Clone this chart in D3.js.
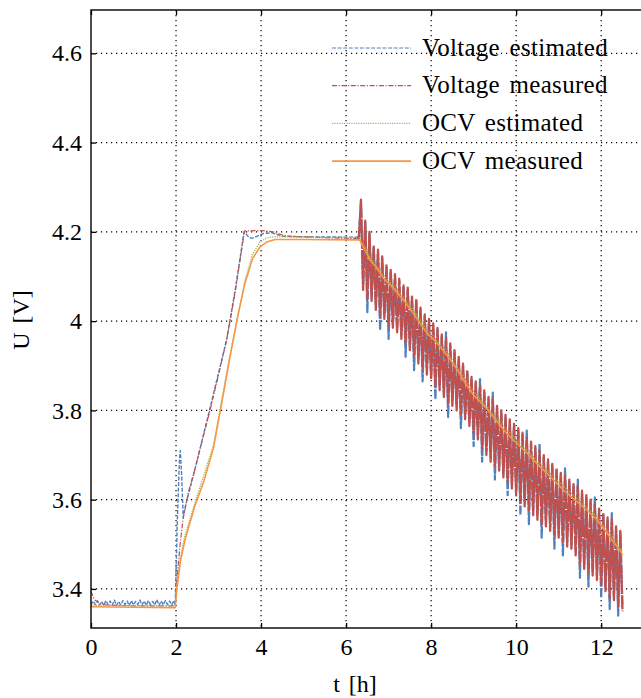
<!DOCTYPE html>
<html>
<head>
<meta charset="utf-8">
<script src="https://cdn.jsdelivr.net/npm/d3@7"></script>
<style>
	body { margin: 0; background: #fff; }
	svg { display: block; }
	text { font-family: "Liberation Serif", "DejaVu Serif", serif; fill: #000; }
</style>
</head>
<body>
<div class="chart"></div>
<script>

// ---- data ----------------------------------------------------------------

var xTicks = [0, 2, 4, 6, 8, 10, 12];
var yTicks = [3.4, 3.6, 3.8, 4.0, 4.2, 4.4, 4.6];
var yTickLabels = ["3.4", "3.6", "3.8", "4", "4.2", "4.4", "4.6"];

var legendLabels = ["Voltage estimated", "Voltage measured", "OCV estimated", "OCV measured"];

// rest + charge phase, [t (h), U (V)]
var voltEstCharge = [
	[0, 3.364], [0.05, 3.373], [0.1, 3.365], [0.15, 3.374], [0.2, 3.364], [0.25, 3.372],
	[0.3, 3.363], [0.35, 3.374], [0.4, 3.365], [0.45, 3.373], [0.5, 3.364], [0.55, 3.375],
	[0.6, 3.363], [0.65, 3.372], [0.7, 3.364], [0.75, 3.374], [0.8, 3.365], [0.85, 3.373],
	[0.9, 3.363], [0.95, 3.374], [1.0, 3.364], [1.05, 3.372], [1.1, 3.365], [1.15, 3.375],
	[1.2, 3.364], [1.25, 3.373], [1.3, 3.363], [1.35, 3.374], [1.4, 3.365], [1.45, 3.372],
	[1.5, 3.364], [1.55, 3.376], [1.6, 3.363], [1.65, 3.373], [1.7, 3.364], [1.75, 3.374],
	[1.8, 3.365], [1.85, 3.373], [1.9, 3.364], [1.95, 3.374], [1.98, 3.364],
	[2.03, 3.55], [2.08, 3.69], [2.1, 3.71], [2.13, 3.66], [2.17, 3.56], [2.22, 3.585],
	[2.45, 3.67], [2.57, 3.716], [3.19, 3.958], [3.4, 4.075], [3.6, 4.2], [3.65, 4.195],
	[3.72, 4.187], [3.8, 4.186], [3.9, 4.19], [4.05, 4.196], [4.25, 4.198], [4.35, 4.195],
	[4.5, 4.19], [5.0, 4.189], [6.25, 4.188]
];

var voltMeasCharge = [
	[0, 3.395], [0.05, 3.382], [0.1, 3.374], [0.2, 3.368], [0.35, 3.364], [1.0, 3.362],
	[1.98, 3.362], [2.02, 3.42], [2.09, 3.495], [2.17, 3.56], [2.3, 3.62], [2.45, 3.67],
	[2.57, 3.716], [2.8, 3.8], [3.0, 3.88], [3.19, 3.958], [3.4, 4.07], [3.61, 4.202],
	[4.0, 4.203], [4.28, 4.2], [4.5, 4.193], [4.7, 4.19], [5.5, 4.187], [6.25, 4.185]
];

// pulsed discharge, sampled every 0.05 h from 6.30 h
var dischargeStart = 6.30,
	dischargeStep = 0.05;

var voltMeasDischarge = [
	4.185, 4.272, 4.070, 4.225, 4.050, 4.200, 4.045, 4.170, 4.025, 4.160,
	4.010, 4.145, 4.005, 4.125, 3.990, 4.115, 3.985, 4.105, 3.975, 4.095,
	3.960, 4.080, 3.950, 4.075, 3.935, 4.055, 3.920, 4.050, 3.905, 4.030,
	3.895, 4.015, 3.880, 4.005, 3.870, 3.995, 3.855, 3.985, 3.845, 3.970,
	3.830, 3.960, 3.815, 3.950, 3.810, 3.935, 3.800, 3.920, 3.790, 3.905,
	3.780, 3.890, 3.765, 3.875, 3.750, 3.865, 3.735, 3.855, 3.715, 3.845,
	3.700, 3.830, 3.685, 3.825, 3.675, 3.810, 3.665, 3.800, 3.650, 3.790,
	3.640, 3.780, 3.625, 3.770, 3.610, 3.760, 3.595, 3.750, 3.585, 3.740,
	3.575, 3.730, 3.565, 3.720, 3.555, 3.710, 3.545, 3.700, 3.540, 3.690,
	3.530, 3.680, 3.520, 3.670, 3.515, 3.660, 3.505, 3.655, 3.495, 3.645,
	3.490, 3.635, 3.475, 3.630, 3.455, 3.620, 3.445, 3.610, 3.435, 3.600,
	3.430, 3.590, 3.420, 3.580, 3.410, 3.570, 3.395, 3.560, 3.380, 3.555,
	3.375, 3.540, 3.360, 3.530, 3.350
];

var voltEstDischarge = [
	4.188, 4.265, 4.080, 4.220, 4.020, 4.195, 4.055, 4.165, 4.035, 4.155,
	3.980, 4.140, 4.015, 4.120, 3.960, 4.110, 3.995, 4.100, 3.985, 4.090,
	3.970, 4.075, 3.920, 4.070, 3.945, 4.050, 3.890, 4.045, 3.915, 4.025,
	3.865, 4.010, 3.890, 4.000, 3.880, 3.990, 3.825, 3.980, 3.855, 3.965,
	3.840, 3.975, 3.785, 3.945, 3.820, 3.930, 3.810, 3.915, 3.760, 3.900,
	3.790, 3.885, 3.775, 3.870, 3.720, 3.860, 3.745, 3.870, 3.685, 3.840,
	3.710, 3.825, 3.695, 3.840, 3.645, 3.805, 3.675, 3.795, 3.660, 3.785,
	3.610, 3.775, 3.635, 3.765, 3.620, 3.755, 3.565, 3.745, 3.595, 3.755,
	3.545, 3.725, 3.575, 3.715, 3.565, 3.725, 3.515, 3.695, 3.550, 3.685,
	3.540, 3.675, 3.490, 3.665, 3.525, 3.655, 3.475, 3.670, 3.505, 3.640,
	3.500, 3.630, 3.485, 3.645, 3.425, 3.615, 3.455, 3.605, 3.405, 3.595,
	3.440, 3.605, 3.430, 3.575, 3.380, 3.565, 3.405, 3.555, 3.355, 3.570,
	3.385, 3.535, 3.340, 3.525, 3.360
];

var ocvEstimated = [
	[0, 3.363], [1.98, 3.362], [2.02, 3.41], [2.1, 3.47], [2.21, 3.52], [2.45, 3.595],
	[2.88, 3.722], [3.27, 3.925], [3.62, 4.09], [3.8, 4.15], [3.98, 4.178], [4.15, 4.187],
	[4.33, 4.189], [5.0, 4.188], [6.3, 4.187], [6.45, 4.165], [6.56, 4.143], [6.88, 4.103],
	[7.35, 4.054], [7.9, 3.981], [8.37, 3.931], [9.0, 3.842], [9.78, 3.756], [10.56, 3.681],
	[11.11, 3.630], [11.9, 3.562], [12.25, 3.517], [12.5, 3.483]
];

var ocvMeasured = [
	[0, 3.360], [1.0, 3.359], [1.98, 3.358], [2.02, 3.40], [2.1, 3.46], [2.21, 3.51],
	[2.3, 3.54], [2.45, 3.588], [2.65, 3.64], [2.88, 3.716], [3.1, 3.83], [3.27, 3.92],
	[3.45, 4.01], [3.62, 4.085], [3.8, 4.14], [3.98, 4.167], [4.15, 4.178], [4.33, 4.183],
	[5.0, 4.183], [6.3, 4.182], [6.33, 4.180], [6.45, 4.158], [6.56, 4.137], [6.7, 4.122],
	[6.88, 4.096], [7.1, 4.075], [7.35, 4.047], [7.6, 4.015], [7.9, 3.973], [8.1, 3.955],
	[8.37, 3.924], [8.6, 3.893], [8.8, 3.862], [9.0, 3.834], [9.3, 3.805], [9.55, 3.775],
	[9.78, 3.748], [10.0, 3.728], [10.3, 3.700], [10.56, 3.674], [10.8, 3.652], [11.11, 3.622],
	[11.4, 3.598], [11.65, 3.578], [11.9, 3.555], [12.1, 3.530], [12.25, 3.510], [12.46, 3.484],
	[12.5, 3.476]
];

// ---- layout ---------------------------------------------------------------

var W = 641, H = 698;
var plot = { left : 91, top : 10, right : 642, bottom : 628 };

var x = d3.scaleLinear()
	.domain([0, 12.96])
	.range([plot.left, plot.right]);

var y = d3.scaleLinear()
	.domain([3.3125, 4.697])
	.range([plot.bottom, plot.top]);

var svg = d3.select(".chart").append("svg")
	.attr("width", W)
	.attr("height", H);

svg.append("defs").append("clipPath")
	.attr("id", "plotclip")
	.append("rect")
	.attr("x", plot.left)
	.attr("y", plot.top)
	.attr("width", plot.right - plot.left)
	.attr("height", plot.bottom - plot.top);

// grid
var grid = svg.append("g").attr("class", "grid");

grid.selectAll(".gx")
	.data(xTicks.filter(function (d) { return d > 0; }))
	.enter().append("line")
	.attr("x1", function (d) { return x(d); })
	.attr("x2", function (d) { return x(d); })
	.attr("y1", plot.top)
	.attr("y2", plot.bottom);

grid.selectAll(".gy")
	.data(yTicks)
	.enter().append("line")
	.attr("x1", plot.left)
	.attr("x2", plot.right)
	.attr("y1", function (d) { return y(d); })
	.attr("y2", function (d) { return y(d); });

grid.selectAll("line")
	.attr("stroke", "#000")
	.attr("stroke-width", 1.2)
	.attr("stroke-dasharray", "1.2 3.8");

// series
function onGrid(values) {
	return values.map(function (v, i) {
		return [dischargeStart + i * dischargeStep, v];
	});
}

var series = [
	{ name : legendLabels[0], color : "#4F81BD", dash : "4 1.6", width : 1.2 },
	{ name : legendLabels[1], color : "#C0504D", dash : "5 1.6 1.2 1.6", width : 1.2 },
	{ name : legendLabels[2], color : "#9BBB59", dash : "1.2 1.2", width : 1.3 },
	{ name : legendLabels[3], color : "#F79646", dash : null, width : 1.6 }
];

// the dense pulse part gets a heavier stroke so it reads as a band like the original
var traces = [
	{ s : 0, data : voltEstCharge, width : 1.4, dash : "4 1.6" },
	{ s : 0, data : [voltEstCharge[voltEstCharge.length - 1]].concat(onGrid(voltEstDischarge)), width : 2.2, dash : "9 1.5" },
	{ s : 1, data : voltMeasCharge, width : 1.2, dash : "5 1.6 1.2 1.6" },
	{ s : 1, data : [voltMeasCharge[voltMeasCharge.length - 1]].concat(onGrid(voltMeasDischarge)), width : 2.3, dash : "14 1.2" },
	{ s : 2, data : ocvEstimated, width : 1.3, dash : "1.2 1.2" },
	{ s : 3, data : ocvMeasured, width : 1.6, dash : null }
];

var line = d3.line()
	.x(function (d) { return x(d[0]); })
	.y(function (d) { return y(d[1]); });

svg.append("g")
	.attr("clip-path", "url(#plotclip)")
	.selectAll("path")
	.data(traces)
	.enter().append("path")
	.attr("fill", "none")
	.attr("stroke", function (d) { return series[d.s].color; })
	.attr("stroke-width", function (d) { return d.width; })
	.attr("stroke-dasharray", function (d) { return d.dash; })
	.attr("stroke-linejoin", "round")
	.attr("d", function (d) { return line(d.data); });

// axes, ticks pointing inward
var xAxis = d3.axisBottom(x)
	.tickValues(xTicks)
	.tickSizeInner(-5)
	.tickSizeOuter(0)
	.tickPadding(10)
	.tickFormat(d3.format("d"));

var yAxis = d3.axisLeft(y)
	.tickValues(yTicks)
	.tickSizeInner(-5)
	.tickSizeOuter(0)
	.tickPadding(9)
	.tickFormat(function (d, i) { return yTickLabels[i]; });

var xTop = d3.axisTop(x)
	.tickValues(xTicks)
	.tickSizeInner(-5)
	.tickSizeOuter(0)
	.tickFormat("");

svg.append("g")
	.attr("transform", "translate(0," + plot.bottom + ")")
	.call(xAxis);

svg.append("g")
	.attr("transform", "translate(" + plot.left + ",0)")
	.call(yAxis);

svg.append("g")
	.attr("transform", "translate(0," + plot.top + ")")
	.call(xTop);

svg.selectAll(".domain").remove();
svg.selectAll(".tick line").attr("stroke", "#000").attr("stroke-width", 1.3);
svg.selectAll(".tick text")
	.attr("font-family", "Liberation Serif, DejaVu Serif, serif")
	.attr("font-size", 24)
	.attr("fill", "#000");

// frame
svg.append("rect")
	.attr("x", plot.left)
	.attr("y", plot.top)
	.attr("width", plot.right - plot.left)
	.attr("height", plot.bottom - plot.top)
	.attr("fill", "none")
	.attr("stroke", "#000")
	.attr("stroke-width", 1.4);

// axis titles
svg.append("text")
	.attr("x", 355)
	.attr("y", 692)
	.attr("text-anchor", "middle")
	.attr("font-size", 24)
	.attr("word-spacing", 3)
	.text("t [h]");

svg.append("text")
	.attr("transform", "translate(29,320) rotate(-90)")
	.attr("text-anchor", "middle")
	.attr("font-size", 24)
	.attr("word-spacing", 3)
	.text("U [V]");

// legend
var legend = svg.append("g")
	.attr("transform", "translate(332,48)");

var entry = legend.selectAll(".entry")
	.data(series)
	.enter().append("g")
	.attr("class", "entry")
	.attr("transform", function (d, i) { return "translate(0," + (i * 37.7) + ")"; });

entry.append("line")
	.attr("x1", 0)
	.attr("x2", 79)
	.attr("stroke", function (d) { return d.color; })
	.attr("stroke-width", function (d) { return d.width; })
	.attr("stroke-dasharray", function (d) { return d.dash; });

entry.append("text")
	.attr("x", 90)
	.attr("y", 7.5)
	.attr("font-size", 25)
	.attr("letter-spacing", 0.3)
	.attr("word-spacing", 3)
	.text(function (d) { return d.name; });

</script>
</body>
</html>
